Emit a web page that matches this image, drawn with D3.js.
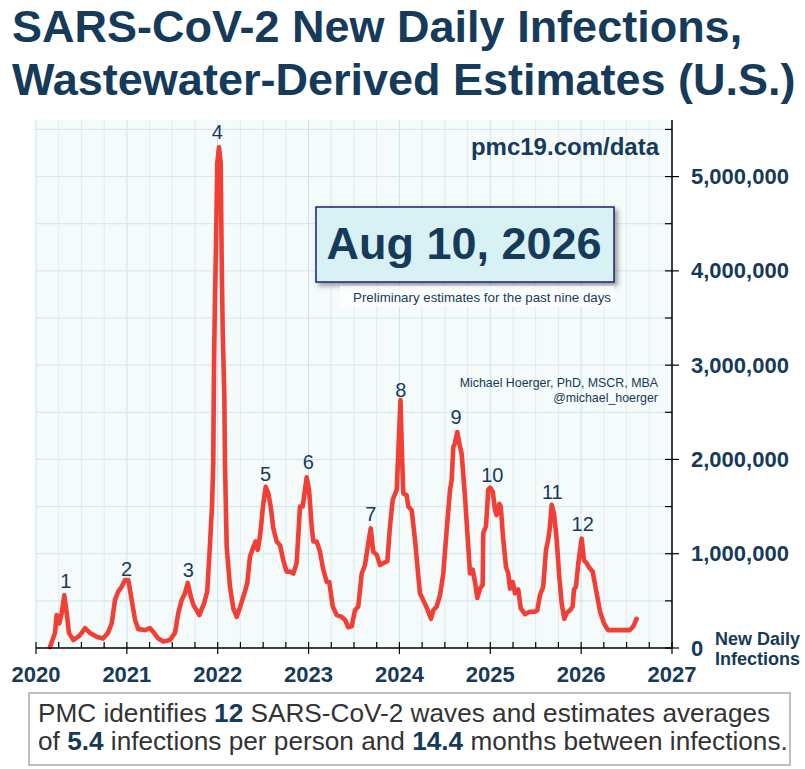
<!DOCTYPE html>
<html>
<head>
<meta charset="utf-8">
<script src="https://cdn.jsdelivr.net/npm/d3@7"></script>
<style>
  body { margin: 0; background: #fff; }
  svg { display: block; font-family: "Liberation Sans", Arial, sans-serif; }
</style>
</head>
<body>
<div id="chart"></div>
<script>
// decimal year of each estimate
var dayYear = [2020.154, 2020.209, 2020.228, 2020.256, 2020.283, 2020.311, 2020.338, 2020.363, 2020.411, 2020.466,
  2020.503, 2020.539, 2020.594, 2020.668, 2020.737, 2020.792, 2020.833, 2020.870, 2020.906, 2020.943,
  2020.980, 2021.016, 2021.053, 2021.090, 2021.126, 2021.200, 2021.255, 2021.291, 2021.346, 2021.401,
  2021.475, 2021.530, 2021.566, 2021.604, 2021.640, 2021.670, 2021.703, 2021.731, 2021.797, 2021.849,
  2021.885, 2021.915, 2021.937, 2021.951, 2021.959, 2021.970, 2021.981, 2021.995, 2022.014, 2022.033,
  2022.044, 2022.055, 2022.073, 2022.080, 2022.099, 2022.135, 2022.172, 2022.209, 2022.245, 2022.300,
  2022.326, 2022.355, 2022.392, 2022.418, 2022.440, 2022.465, 2022.502, 2022.528, 2022.557, 2022.583,
  2022.612, 2022.649, 2022.686, 2022.722, 2022.759, 2022.796, 2022.832, 2022.869, 2022.906, 2022.935,
  2022.950, 2022.979, 2023.005, 2023.034, 2023.052, 2023.089, 2023.126, 2023.162, 2023.200, 2023.228,
  2023.266, 2023.310, 2023.365, 2023.401, 2023.437, 2023.475, 2023.511, 2023.547, 2023.585, 2023.621,
  2023.657, 2023.684, 2023.712, 2023.750, 2023.786, 2023.823, 2023.867, 2023.896, 2023.926, 2023.970,
  2023.993, 2024.012, 2024.028, 2024.043, 2024.080, 2024.098, 2024.135, 2024.171, 2024.208, 2024.226,
  2024.281, 2024.318, 2024.347, 2024.373, 2024.410, 2024.447, 2024.483, 2024.520, 2024.557, 2024.575,
  2024.593, 2024.611, 2024.637, 2024.659, 2024.685, 2024.722, 2024.758, 2024.777, 2024.806, 2024.832,
  2024.857, 2024.887, 2024.916, 2024.923, 2024.953, 2024.978, 2024.997, 2025.027, 2025.052, 2025.070,
  2025.099, 2025.115, 2025.143, 2025.173, 2025.198, 2025.217, 2025.247, 2025.272, 2025.308, 2025.335,
  2025.382, 2025.437, 2025.492, 2025.517, 2025.547, 2025.583, 2025.613, 2025.638, 2025.657, 2025.676,
  2025.701, 2025.731, 2025.759, 2025.786, 2025.815, 2025.841, 2025.877, 2025.907, 2025.921, 2025.943,
  2025.969, 2026.006, 2026.031, 2026.061, 2026.090, 2026.127, 2026.171, 2026.208, 2026.252, 2026.296,
  2026.354, 2026.450, 2026.537, 2026.574, 2026.611];

// new daily infections (estimated)
var dailyInf = [10000, 160000, 350000, 260000, 370000, 560000, 370000, 160000, 85000, 120000,
  160000, 210000, 160000, 120000, 100000, 160000, 260000, 510000, 600000, 650000,
  720000, 720000, 510000, 300000, 200000, 190000, 210000, 170000, 100000, 70000,
  85000, 160000, 370000, 510000, 580000, 690000, 550000, 460000, 350000, 470000,
  600000, 1100000, 1500000, 1960000, 3000000, 3720000, 4250000, 5140000, 5310000, 5140000,
  4080000, 3370000, 2660000, 1960000, 1070000, 650000, 420000, 330000, 430000, 600000,
  690000, 970000, 1070000, 1130000, 1040000, 1180000, 1530000, 1710000, 1640000, 1500000,
  1270000, 1130000, 1090000, 930000, 810000, 810000, 790000, 900000, 1500000, 1500000,
  1600000, 1810000, 1680000, 1290000, 1130000, 1130000, 1020000, 830000, 700000, 700000,
  440000, 350000, 330000, 300000, 220000, 230000, 400000, 440000, 790000, 880000,
  1110000, 1270000, 1020000, 990000, 880000, 900000, 920000, 1290000, 1570000, 1680000,
  2200000, 2630000, 2050000, 1640000, 1620000, 1500000, 1460000, 1150000, 760000, 580000,
  470000, 385000, 310000, 400000, 440000, 560000, 790000, 1250000, 1680000, 1780000,
  2130000, 2170000, 2290000, 2170000, 2060000, 1600000, 1070000, 790000, 830000, 700000,
  530000, 630000, 670000, 1220000, 1290000, 1680000, 1700000, 1660000, 1460000, 1410000,
  1530000, 1500000, 1150000, 860000, 790000, 630000, 700000, 580000, 620000, 420000,
  360000, 385000, 385000, 400000, 560000, 650000, 1040000, 1150000, 1290000, 1520000,
  1430000, 1150000, 760000, 470000, 310000, 370000, 400000, 440000, 620000, 650000,
  900000, 1160000, 930000, 900000, 850000, 810000, 580000, 385000, 260000, 190000,
  190000, 190000, 190000, 230000, 310000];

// wave labels: number, year and value where the label sits
var waveNum = ["1", "2", "3", "4", "5", "6", "7", "8", "9", "10", "11", "12"];
var waveYear = [2020.327, 2020.998, 2021.676, 2021.995, 2022.528, 2022.997, 2023.684, 2024.014, 2024.623, 2025.022, 2025.683, 2026.017];
var waveAt = [633000, 767000, 750000, 5394000, 1771000, 1898000, 1350000, 2660000, 2375000, 1764000, 1577000, 1241000];

var yearTicks = [2020, 2021, 2022, 2023, 2024, 2025, 2026, 2027];
var valueTicks = [0, 1000000, 2000000, 3000000, 4000000, 5000000];

var navy = "#163b5a";
var width = 805, height = 769;
var plot = { left: 36, right: 672, top: 120, bottom: 648 };

var svg = d3.select("#chart").append("svg")
  .attr("width", width)
  .attr("height", height);

var defs = svg.append("defs");
var shadow = defs.append("filter").attr("id", "shadow")
  .attr("x", "-10%").attr("y", "-20%").attr("width", "130%").attr("height", "150%");
shadow.append("feDropShadow")
  .attr("dx", 3).attr("dy", 3).attr("stdDeviation", 2.5)
  .attr("flood-color", "#555").attr("flood-opacity", 0.6);

var x = d3.scaleLinear().domain([2020, 2027]).range([plot.left, plot.right]);
var y = d3.scaleLinear().domain([0, 5600000]).range([plot.bottom, plot.top]);

// title
svg.append("text").attr("x", 12).attr("y", 42)
  .attr("font-size", 45).attr("font-weight", "bold").attr("fill", navy)
  .text("SARS-CoV-2 New Daily Infections,");
svg.append("text").attr("x", 12).attr("y", 95)
  .attr("font-size", 45).attr("font-weight", "bold").attr("fill", navy)
  .text("Wastewater-Derived Estimates (U.S.)");

// plot background
svg.append("rect")
  .attr("x", plot.left).attr("y", plot.top)
  .attr("width", plot.right - plot.left).attr("height", plot.bottom - plot.top)
  .attr("fill", "#f4fbfa");

// grid
var quarters = d3.range(2020, 2027, 0.25).filter(function(d) { return d % 1 !== 0; });
svg.append("g").selectAll("line").data(quarters).enter().append("line")
  .attr("x1", function(d) { return x(d); }).attr("x2", function(d) { return x(d); })
  .attr("y1", plot.top).attr("y2", plot.bottom)
  .attr("stroke", "#e4eaed").attr("stroke-width", 1);
svg.append("g").selectAll("line").data(yearTicks.slice(0, -1)).enter().append("line")
  .attr("x1", function(d) { return x(d); }).attr("x2", function(d) { return x(d); })
  .attr("y1", plot.top).attr("y2", plot.bottom)
  .attr("stroke", "#c6e3f3").attr("stroke-width", 1);
svg.append("g").selectAll("line").data(d3.range(500000, 5600001, 500000)).enter().append("line")
  .attr("x1", plot.left).attr("x2", plot.right)
  .attr("y1", function(d) { return y(d); }).attr("y2", function(d) { return y(d); })
  .attr("stroke", "#cfe6f3").attr("stroke-width", 1);

// date box
svg.append("rect")
  .attr("x", 316).attr("y", 207).attr("width", 298).attr("height", 75)
  .attr("fill", "#d7f1f4").attr("stroke", "#1d1f6e").attr("stroke-width", 1.5)
  .attr("filter", "url(#shadow)");
svg.append("text").attr("x", 464).attr("y", 258.5).attr("text-anchor", "middle")
  .attr("font-size", 45).attr("font-weight", "bold").attr("fill", navy)
  .text("Aug 10, 2026");
svg.append("rect")
  .attr("x", 340).attr("y", 286).attr("width", 274).attr("height", 21)
  .attr("fill", "#ffffff").attr("opacity", 0.7);
svg.append("text").attr("x", 611).attr("y", 302).attr("text-anchor", "end")
  .attr("font-size", 13.3).attr("fill", navy)
  .text("Preliminary estimates for the past nine days");

svg.append("text").attr("x", 659).attr("y", 155).attr("text-anchor", "end")
  .attr("font-size", 24).attr("font-weight", "bold").attr("fill", navy)
  .text("pmc19.com/data");
svg.append("text").attr("x", 658).attr("y", 386.5).attr("text-anchor", "end")
  .attr("font-size", 12.4).attr("fill", navy)
  .text("Michael Hoerger, PhD, MSCR, MBA");
svg.append("text").attr("x", 658).attr("y", 401.5).attr("text-anchor", "end")
  .attr("font-size", 12.4).attr("fill", navy)
  .text("@michael_hoerger");

// the curve
var line = d3.line()
  .x(function(d, i) { return x(dayYear[i]); })
  .y(function(d) { return y(d); });
svg.append("path")
  .datum(dailyInf)
  .attr("d", line)
  .attr("fill", "none")
  .attr("stroke", "#f23f36")
  .attr("stroke-width", 4.6)
  .attr("stroke-linejoin", "round")
  .attr("stroke-linecap", "round");

// wave numbers
svg.append("g").selectAll("text").data(waveNum).enter().append("text")
  .attr("x", function(d, i) { return x(waveYear[i]); })
  .attr("y", function(d, i) { return y(waveAt[i]); })
  .attr("text-anchor", "middle")
  .attr("font-size", 20).attr("fill", navy)
  .text(function(d) { return d; });

// x axis
var xAxis = svg.append("g").attr("transform", "translate(0," + plot.bottom + ")");
xAxis.append("line").attr("x1", plot.left).attr("x2", plot.right)
  .attr("stroke", "#000").attr("stroke-width", 1.5);
xAxis.selectAll(".minor").data(quarters).enter().append("line")
  .attr("x1", function(d) { return x(d); }).attr("x2", function(d) { return x(d); })
  .attr("y1", -6).attr("y2", 0).attr("stroke", "#000").attr("stroke-width", 1.2);
xAxis.selectAll(".major").data(yearTicks).enter().append("line")
  .attr("x1", function(d) { return x(d); }).attr("x2", function(d) { return x(d); })
  .attr("y1", -6).attr("y2", 6).attr("stroke", "#000").attr("stroke-width", 1.2);
xAxis.selectAll("text").data(yearTicks).enter().append("text")
  .attr("x", function(d) { return x(d); }).attr("y", 34)
  .attr("text-anchor", "middle")
  .attr("font-size", 22).attr("font-weight", "bold").attr("fill", navy)
  .text(function(d) { return d; });

// y axis (right)
var yAxis = svg.append("g").attr("transform", "translate(" + plot.right + ",0)");
yAxis.append("line").attr("y1", plot.top).attr("y2", plot.bottom)
  .attr("stroke", "#000").attr("stroke-width", 1.5);
yAxis.selectAll(".minor").data(d3.range(500000, 5600001, 1000000)).enter().append("line")
  .attr("y1", function(d) { return y(d); }).attr("y2", function(d) { return y(d); })
  .attr("x1", -7).attr("x2", 0).attr("stroke", "#000").attr("stroke-width", 1.2);
yAxis.selectAll(".major").data(valueTicks).enter().append("line")
  .attr("y1", function(d) { return y(d); }).attr("y2", function(d) { return y(d); })
  .attr("x1", -7).attr("x2", 7).attr("stroke", "#000").attr("stroke-width", 1.2);
yAxis.selectAll("text").data(valueTicks).enter().append("text")
  .attr("x", 19).attr("y", function(d) { return y(d) + 7.5; })
  .attr("font-size", 22).attr("font-weight", "bold").attr("fill", navy)
  .text(function(d) { return d3.format(",")(d); });

svg.append("text").attr("x", 715).attr("y", 645)
  .attr("font-size", 18).attr("font-weight", "bold").attr("fill", navy)
  .text("New Daily");
svg.append("text").attr("x", 715).attr("y", 665)
  .attr("font-size", 18).attr("font-weight", "bold").attr("fill", navy)
  .text("Infections");

// footer
svg.append("rect")
  .attr("x", 29).attr("y", 693).attr("width", 761).attr("height", 72)
  .attr("fill", "#fff").attr("stroke", "#aaaaaa").attr("stroke-width", 1.5);
var foot1 = svg.append("text").attr("x", 38).attr("y", 722)
  .attr("font-size", 26.2).attr("fill", "#333");
foot1.append("tspan").text("PMC identifies ");
foot1.append("tspan").attr("font-weight", "bold").attr("fill", navy).text("12");
foot1.append("tspan").text(" SARS-CoV-2 waves and estimates averages");
var foot2 = svg.append("text").attr("x", 38).attr("y", 750)
  .attr("font-size", 26.2).attr("fill", "#333");
foot2.append("tspan").text("of ");
foot2.append("tspan").attr("font-weight", "bold").attr("fill", navy).text("5.4");
foot2.append("tspan").text(" infections per person and ");
foot2.append("tspan").attr("font-weight", "bold").attr("fill", navy).text("14.4");
foot2.append("tspan").text(" months between infections.");
</script>
</body>
</html>
